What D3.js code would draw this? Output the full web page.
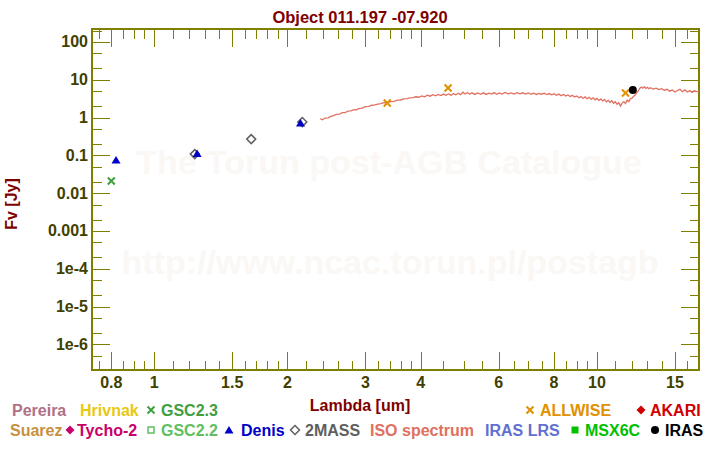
<!DOCTYPE html>
<html><head><meta charset="utf-8">
<script src="https://cdn.jsdelivr.net/npm/d3@7/dist/d3.min.js"></script>
<style>html,body{margin:0;padding:0;background:#fff;}svg{display:block;font-family:"Liberation Sans",Arial,sans-serif;font-weight:bold;}</style>
</head><body>
<svg id="c" width="720" height="450"></svg>
<script>
// ---- data ----
const title = "Object 011.197 -07.920";
const xMajorTicks = [0.8, 1, 1.5, 2, 3, 4, 6, 8, 10, 15];
const xMinorTicks = [0.75, 0.85, 0.9, 0.95, 1.1, 1.2, 1.3, 1.4, 1.6, 1.7, 1.8, 1.9, 2.2, 2.4, 2.6, 2.8, 3.2, 3.4, 3.6, 3.8, 4.5, 5, 5.5, 6.5, 7, 7.5, 8.5, 9, 9.5, 11, 12, 13, 14, 16];
const yMajorTicks = [1e-6, 1e-5, 1e-4, 0.001, 0.01, 0.1, 1, 10, 100];
const yTickLabels = ["1e-6", "1e-5", "1e-4", "0.001", "0.01", "0.1", "1", "10", "100"];
const yMinorTicks = [5e-7, 2e-6, 5e-6, 2e-5, 5e-5, 2e-4, 5e-4, 0.002, 0.005, 0.02, 0.05, 0.2, 0.5, 2, 5, 20, 50, 200];

const gsc23 = [[0.80, 0.021]];
const denis = [[0.82, 0.075], [1.25, 0.112], [2.14, 0.715]];
const twomass = [[1.235, 0.108], [1.656, 0.269], [2.16, 0.76]];
const allwise = [[3.36, 2.42], [4.61, 6.04], [11.6, 4.46]];
const iras = [[12.05, 5.35]];

const isoLambda = [2.37,2.40,2.43,2.47,2.50,2.54,2.58,2.62,2.66,2.70,2.74,2.78,2.82,2.86,2.90,2.95,3.00,3.05,3.10,3.15,3.20,3.25,3.30,3.36,3.42,3.48,3.54,3.60,3.66,3.72,3.78,3.84,3.90,3.96,4.02,4.08,4.14,4.20,4.26,4.32,4.38,4.44,4.50,4.56,4.62,4.68,4.74,4.80,4.86,4.92,4.98,5.04,5.10,5.16,5.22,5.30,5.38,5.46,5.54,5.62,5.70,5.78,5.86,5.94,6.02,6.10,6.20,6.30,6.40,6.50,6.60,6.70,6.80,6.90,7.00,7.10,7.20,7.30,7.40,7.50,7.60,7.70,7.80,7.90,8.00,8.10,8.20,8.30,8.40,8.50,8.60,8.70,8.80,8.90,9.00,9.10,9.20,9.30,9.40,9.50,9.60,9.70,9.80,9.90,10.0,10.1,10.2,10.3,10.4,10.5,10.6,10.7,10.8,10.9,11.0,11.1,11.2,11.3,11.4,11.5,11.6,11.7,11.8,11.9,12.0,12.1,12.2,12.3,12.4,12.5,12.6,12.7,12.8,12.9,13.0,13.1,13.2,13.4,13.6,13.8,14.0,14.2,14.4,14.6,14.8,15.0,15.2,15.4,15.6,15.8,16.0,16.2,16.4,16.6,16.8,17.0];
const isoFlux = [0.93,0.88,0.97,0.98,1.06,1.13,1.22,1.24,1.35,1.36,1.49,1.50,1.60,1.61,1.72,1.78,1.94,1.98,2.12,2.16,2.28,2.33,2.47,2.50,2.66,2.70,2.88,2.92,3.12,3.16,3.32,3.36,3.55,3.45,3.75,3.55,3.92,3.68,4.02,3.76,4.10,3.82,4.18,3.88,4.22,3.92,4.28,4.00,4.42,4.05,4.70,4.22,4.60,4.15,4.52,4.10,4.48,4.15,4.52,4.10,4.42,4.18,4.58,4.15,4.48,4.20,4.62,4.25,4.52,4.20,4.58,4.25,4.52,4.20,4.48,4.15,4.42,4.10,4.38,4.15,4.42,4.05,4.32,4.00,4.28,3.90,4.18,3.80,4.08,3.70,3.98,3.60,3.88,3.50,3.72,3.35,3.62,3.25,3.52,3.15,3.42,3.05,3.32,2.95,3.22,2.85,3.12,2.75,3.02,2.60,2.88,2.50,2.78,2.40,2.62,2.25,2.48,2.02,2.42,2.65,2.35,2.92,2.65,3.15,3.25,3.65,3.95,4.60,5.10,6.00,6.40,6.00,6.60,5.90,6.30,5.80,6.20,5.70,6.00,5.50,5.80,5.30,5.60,5.00,5.40,4.75,5.20,5.60,4.85,5.40,4.75,5.20,4.65,5.10,4.85,5.00];

const legendRow1 = [
  {label: "Pereira", color: "#b07088", sym: null},
  {label: "Hrivnak", color: "#e8c810", sym: null},
  {label: "GSC2.3", color: "#40a040", sym: "x"},
  {label: "ALLWISE", color: "#e09000", sym: "x"},
  {label: "AKARI", color: "#d00000", sym: "diamondFill"}
];
const legendRow2 = [
  {label: "Suarez", color: "#c89040", sym: null},
  {label: "Tycho-2", color: "#c8006a", sym: "diamondFill"},
  {label: "GSC2.2", color: "#60c060", sym: "squareOpen"},
  {label: "Denis", color: "#0000c8", sym: "triangle"},
  {label: "2MASS", color: "#606060", sym: "diamondOpen"},
  {label: "ISO spectrum", color: "#e07060", sym: null},
  {label: "IRAS LRS", color: "#6070d0", sym: null},
  {label: "MSX6C", color: "#00c000", sym: "squareFill"},
  {label: "IRAS", color: "#000000", sym: "dot"}
];

// ---- layout ----
const L = 92, R = 699, T = 29, B = 370;
const axisColor = "#808000", tickText = "#404000";
const svg = d3.select("#c");

const x = d3.scaleLog().domain([0.7236, 17.0]).range([L, R]);
const y = d3.scaleLog().domain([Math.pow(10, -6.68), Math.pow(10, 2.344)]).range([B, T]);

// watermark
svg.append("text").attr("x", 389).attr("y", 174).attr("text-anchor", "middle")
  .attr("font-size", 34).attr("fill", "#faf7f4").text("The Torun post-AGB Catalogue");
svg.append("text").attr("x", 390).attr("y", 274).attr("text-anchor", "middle")
  .attr("font-size", 34).attr("fill", "#faf7f4").text("http://www.ncac.torun.pl/postagb");

// title
svg.append("text").attr("x", 360).attr("y", 23).attr("text-anchor", "middle")
  .attr("font-size", 16.5).attr("fill", "#800000").text(title);

// ticks
const g = svg.append("g").attr("stroke", axisColor).attr("stroke-width", 1).attr("shape-rendering", "crispEdges");
function xt(v, len) {
  g.append("line").attr("x1", Math.round(x(v)) + 0.5).attr("x2", Math.round(x(v)) + 0.5).attr("y1", B).attr("y2", B - len);
  g.append("line").attr("x1", Math.round(x(v)) + 0.5).attr("x2", Math.round(x(v)) + 0.5).attr("y1", T).attr("y2", T + len);
}
function yt(v, len) {
  g.append("line").attr("y1", Math.round(y(v)) + 0.5).attr("y2", Math.round(y(v)) + 0.5).attr("x1", L).attr("x2", L + len);
  g.append("line").attr("y1", Math.round(y(v)) + 0.5).attr("y2", Math.round(y(v)) + 0.5).attr("x1", R).attr("x2", R - len);
}
xMajorTicks.forEach(v => xt(v, 18));
xMinorTicks.forEach(v => xt(v, 9.5));
yMajorTicks.forEach(v => yt(v, 18));
yMinorTicks.filter(v => y(v) > T && y(v) < B).forEach(v => yt(v, 9.5));

svg.append("rect").attr("x", L).attr("y", T).attr("width", R - L).attr("height", B - T)
  .attr("fill", "none").attr("stroke", axisColor).attr("stroke-width", 2);

// tick labels
svg.append("g").selectAll("text").data(xMajorTicks).join("text")
  .attr("x", d => x(d)).attr("y", 388).attr("text-anchor", "middle")
  .attr("font-size", 16).attr("fill", tickText).text(d => String(d));
svg.append("g").selectAll("text").data(yMajorTicks).join("text")
  .attr("x", 88).attr("y", d => y(d) + 5.5).attr("text-anchor", "end")
  .attr("font-size", 16).attr("fill", tickText).text((d, i) => yTickLabels[i]);

// axis titles
svg.append("text").attr("x", 360).attr("y", 411).attr("text-anchor", "middle")
  .attr("font-size", 16).attr("fill", "#800000").text("Lambda [um]");
svg.append("text").attr("transform", "translate(17,204) rotate(-90)").attr("text-anchor", "middle")
  .attr("font-size", 16).attr("fill", "#800000").text("Fv [Jy]");

// ISO spectrum
const iso = isoLambda.map((l, i) => [l, isoFlux[i]]);
svg.append("path").datum(iso)
  .attr("d", d3.line().x(d => x(d[0])).y(d => y(d[1])))
  .attr("fill", "none").attr("stroke", "#e07060").attr("stroke-width", 1.3);

// symbols
function drawSym(sel, type, color) {
  if (type === "x") {
    sel.append("path").attr("d", "M-3.5,-3.5L3.5,3.5M-3.5,3.5L3.5,-3.5").attr("stroke", color).attr("stroke-width", 2).attr("fill", "none");
  } else if (type === "triangle") {
    sel.append("path").attr("d", "M0,-4L4.5,3.5L-4.5,3.5Z").attr("fill", color);
  } else if (type === "diamondOpen") {
    sel.append("path").attr("d", "M0,-4.5L4.5,0L0,4.5L-4.5,0Z").attr("fill", "none").attr("stroke", color).attr("stroke-width", 1.5);
  } else if (type === "diamondFill") {
    sel.append("path").attr("d", "M0,-4.5L4.5,0L0,4.5L-4.5,0Z").attr("fill", color);
  } else if (type === "squareOpen") {
    sel.append("rect").attr("x", -3).attr("y", -3).attr("width", 6).attr("height", 6).attr("fill", "none").attr("stroke", color).attr("stroke-width", 1.5);
  } else if (type === "squareFill") {
    sel.append("rect").attr("x", -3.5).attr("y", -3.5).attr("width", 7).attr("height", 7).attr("fill", color);
  } else if (type === "dot") {
    sel.append("circle").attr("r", 4).attr("fill", color);
  }
}
function plotSet(data, type, color) {
  svg.append("g").selectAll("g").data(data).join("g")
    .attr("transform", d => `translate(${x(d[0])},${y(d[1])})`)
    .each(function () { drawSym(d3.select(this), type, color); });
}
plotSet(gsc23, "x", "#40a040");
plotSet(twomass, "diamondOpen", "#606060");
plotSet(denis, "triangle", "#0000c8");
plotSet(allwise, "x", "#e09000");
plotSet(iras, "dot", "#000000");

// legend
const row1Sym = [null, null, 151, 530, 641];
const row1Text = [12, 80, 161, 540, 650];
const row2Sym = [null, 70, 151, 229, 295, null, null, 575, 655];
const row2Text = [10, 77, 161, 241, 305, 370, 485, 585, 665];
function legendRow(items, symX, textX, yBase) {
  items.forEach((it, i) => {
    if (it.sym) {
      const s = svg.append("g").attr("transform", `translate(${symX[i]},${yBase - 6})`);
      drawSym(s, it.sym, it.color);
    }
    svg.append("text").attr("x", textX[i]).attr("y", yBase).attr("font-size", 16)
      .attr("fill", it.color).text(it.label);
  });
}
legendRow(legendRow1, row1Sym, row1Text, 416);
legendRow(legendRow2, row2Sym, row2Text, 436);
</script>
</body></html>
